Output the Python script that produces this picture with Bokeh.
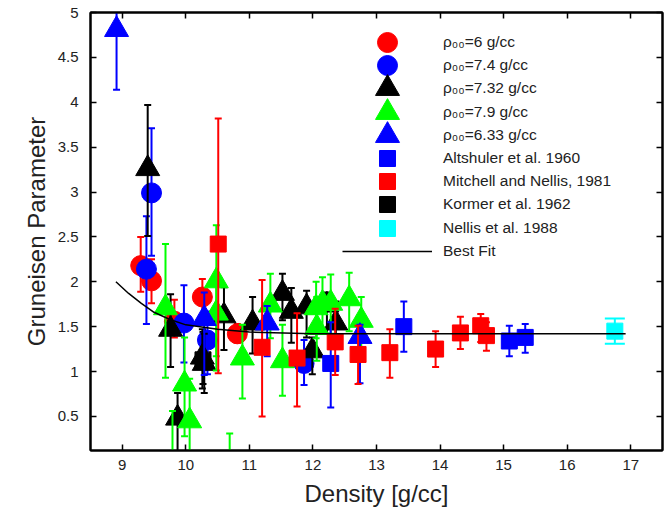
from bokeh.plotting import figure
from bokeh.models import LinearAxis, FixedTicker, Range1d, Legend, LegendItem
from bokeh.embed import file_html
from bokeh.resources import INLINE

# ---- data ----
rc_x = [9.29, 9.46, 9.82, 10.26, 10.81]
rc_y = [2.18, 2.01, 1.56, 1.83, 1.42]
rc_lo = [1.89, 1.76, 1.38, 1.57, 1.32]
rc_hi = [2.50, 2.25, 1.80, 2.03, 1.53]

bc_x = [9.38, 9.46, 9.97, 10.34, 11.86]
bc_y = [2.14, 2.99, 1.54, 1.35, 1.09]
bc_lo = [1.53, 2.29, 1.10, 0.97, 0.85]
bc_hi = [2.73, 3.71, 1.96, 1.67, 1.35]

kt_x = [9.40, 9.76, 9.87, 10.26, 10.29, 10.60, 11.05, 11.52, 11.66, 11.90, 11.99, 12.22, 12.36]
kt_y = [3.26, 1.47, 0.48, 1.16, 1.09, 1.62, 1.54, 1.87, 1.67, 1.72, 1.23, 1.74, 1.54]
kt_lo = [2.51, 1.05, -0.15, 0.81, 0.76, 1.24, 1.20, 1.57, 1.32, 1.38, 0.97, 1.42, 1.27]
kt_hi = [3.97, 1.86, 0.76, 1.47, 1.42, 1.94, 1.83, 2.09, 1.93, 1.90, 1.38, 1.88, 1.78]

gt_x = [9.68, 9.79, 9.98, 10.06, 10.48, 10.48, 10.69, 10.89, 11.33, 11.52, 12.05, 12.06, 12.15, 12.28, 12.57, 12.76]
gt_y = [1.71, -0.25, 0.86, 0.45, 2.01, 1.65, -0.35, 1.15, 1.74, 1.12, 1.71, 1.49, 1.76, 1.76, 1.81, 1.57]
gt_lo = [0.93, -0.85, 0.28, -0.15, 1.01, 1.17, -0.95, 0.70, 1.37, 0.73, 1.37, 1.12, 1.42, 1.42, 1.45, 1.23]
gt_hi = [2.42, 0.56, 1.38, 0.92, 2.63, 2.08, 0.31, 1.52, 2.09, 1.52, 2.00, 1.83, 2.05, 2.08, 2.10, 1.83]

bt_x = [8.91, 10.29, 11.28, 12.74]
bt_y = [4.81, 1.59, 1.54, 1.39]
bt_lo = [4.14, 0.96, 1.17, 0.87]
bt_hi = [5.30, 1.88, 1.73, 1.52]

alt_x = [12.28, 13.43, 15.09, 15.34]
alt_y = [1.09, 1.50, 1.34, 1.38]
alt_lo = [0.60, 1.22, 1.17, 1.21]
alt_hi = [1.55, 1.78, 1.51, 1.53]

mn_x = [10.51, 11.20, 11.75, 12.35, 12.71, 13.21, 13.93, 14.32, 14.64, 14.73]
mn_y = [2.42, 1.27, 1.15, 1.33, 1.19, 1.21, 1.25, 1.43, 1.51, 1.40]
mn_lo = [0.98, 0.50, 0.61, 0.96, 0.86, 0.93, 1.05, 1.25, 1.33, 1.23]
mn_hi = [3.82, 2.02, 1.65, 1.70, 1.51, 1.47, 1.45, 1.61, 1.64, 1.55]

ko_x = [10.27]
ko_y = [1.13]
ko_lo = [0.86]
ko_hi = [1.44]

ne_x = [16.75]
ne_y = [1.45]
ne_lo = [1.31]
ne_hi = [1.59]

fit_x = [8.9, 9.1, 9.3, 9.5, 9.75, 10.0, 10.5, 11.0, 12.0, 13.0, 14.0, 15.0, 16.0, 16.92]
fit_y = [2.00, 1.87, 1.76, 1.66, 1.58, 1.52, 1.47, 1.44, 1.42, 1.42, 1.42, 1.42, 1.42, 1.42]

x_ticks = [9, 10, 11, 12, 13, 14, 15, 16, 17]
y_ticks = [0.5, 1, 1.5, 2, 2.5, 3, 3.5, 4, 4.5, 5]

legend_labels = ["ρ₀₀=6 g/cc", "ρ₀₀=7.4 g/cc", "ρ₀₀=7.32 g/cc", "ρ₀₀=7.9 g/cc",
                 "ρ₀₀=6.33 g/cc", "Altshuler et al. 1960", "Mitchell and Nellis, 1981",
                 "Kormer et al. 1962", "Nellis et al. 1988", "Best Fit"]

FONT = "Liberation Sans"
FRAME_LEFT, FRAME_BOTTOM = 90, 450

p = figure(width=671, height=520, output_backend="svg", toolbar_location=None,
           x_range=Range1d(8.5, 17.5), y_range=Range1d(0.12, 5),
           min_border_left=90, min_border_right=9, min_border_top=12, min_border_bottom=70)
p.grid.visible = False
p.outline_line_color = "black"
p.outline_line_width = 2

def style_axis(ax, labels=True):
    ax.axis_line_color = "black"
    ax.axis_line_width = 2
    ax.major_tick_in = 6
    ax.major_tick_out = 0
    ax.major_tick_line_width = 1.5
    ax.minor_tick_line_color = None
    ax.major_label_text_font = FONT
    ax.major_label_text_font_size = "15px"
    ax.major_label_text_color = "#222222"
    if not labels:
        ax.major_label_text_font_size = "0px"
        ax.major_label_text_color = None
        ax.major_label_standoff = 0

p.xaxis.ticker = FixedTicker(ticks=x_ticks)
p.yaxis.ticker = FixedTicker(ticks=y_ticks)
p.xaxis.major_label_overrides = {t: str(t) for t in x_ticks}
p.yaxis.major_label_overrides = {t: ("%g" % t) for t in y_ticks}
style_axis(p.xaxis[0])
style_axis(p.yaxis[0])
p.xaxis.major_label_standoff = 9
p.yaxis.major_label_standoff = 12
p.xaxis.axis_label = "Density [g/cc]"
p.yaxis.axis_label = "Gruneisen Parameter"
for ax in (p.xaxis[0], p.yaxis[0]):
    ax.axis_label_text_font = FONT
    ax.axis_label_text_font_size = "24px"
    ax.axis_label_text_font_style = "normal"
    ax.axis_label_text_color = "#222222"
p.xaxis.axis_label_standoff = 7
p.yaxis.axis_label_standoff = 5

ax_r = LinearAxis(ticker=FixedTicker(ticks=y_ticks))
style_axis(ax_r, labels=False)
p.add_layout(ax_r, "right")
ax_t = LinearAxis(ticker=FixedTicker(ticks=x_ticks))
style_axis(ax_t, labels=False)
p.add_layout(ax_t, "above")

def series(x, y, lo, hi, color, marker, size, cap=7):
    p.segment(x0=x, y0=lo, x1=x, y1=hi, line_color=color, line_width=2)
    p.scatter(x=x, y=lo, marker="dash", size=cap, line_color=color, line_width=2)
    p.scatter(x=x, y=hi, marker="dash", size=cap, line_color=color, line_width=2)
    return p.scatter(x=x, y=y, marker=marker, size=size, fill_color=color, line_color=color)

r8 = series(ko_x, ko_y, ko_lo, ko_hi, "#000000", "square", 16)
r1 = series(rc_x, rc_y, rc_lo, rc_hi, "#ff0000", "circle", 20)
r2 = series(bc_x, bc_y, bc_lo, bc_hi, "#0000ff", "circle", 20)
r3 = series(kt_x, kt_y, kt_lo, kt_hi, "#000000", "triangle", 24)
r4 = series(gt_x, gt_y, gt_lo, gt_hi, "#00ff00", "triangle", 24)
r5 = series(bt_x, bt_y, bt_lo, bt_hi, "#0000ff", "triangle", 24)
r6 = series(alt_x, alt_y, alt_lo, alt_hi, "#0000ff", "square", 16)
r7 = series(mn_x, mn_y, mn_lo, mn_hi, "#ff0000", "square", 16)
r9 = series(ne_x, ne_y, ne_lo, ne_hi, "#00ffff", "square", 16, cap=20)
rf = p.line(fit_x, fit_y, line_color="black", line_width=1.5)

# one legend per entry, so that marker sizes and row spacing match the reference
renderers = [r1, r2, r3, r4, r5, r6, r7, r8, r9, rf]
glyph_h = [50, 50, 60, 60, 60, 40, 40, 40, 40, 20]   # marker size = 0.4 * glyph height
row_top, row_step = 42, 23.2
for i, (lab, rend, gh) in enumerate(zip(legend_labels, renderers, glyph_h)):
    cy = row_top + i * row_step
    vy = FRAME_BOTTOM - (cy + gh / 2)
    leg = Legend(items=[LegendItem(label=lab, renderers=[rend])],
                 location=(342 - FRAME_LEFT, vy), glyph_width=90, glyph_height=gh,
                 label_height=gh, padding=0, margin=0, spacing=0, label_standoff=11,
                 border_line_color=None, background_fill_alpha=0,
                 label_text_font=FONT, label_text_font_size="15.5px", label_text_color="#222222")
    p.add_layout(leg, "center")

open("out.html", "w").write(file_html(p, INLINE))
